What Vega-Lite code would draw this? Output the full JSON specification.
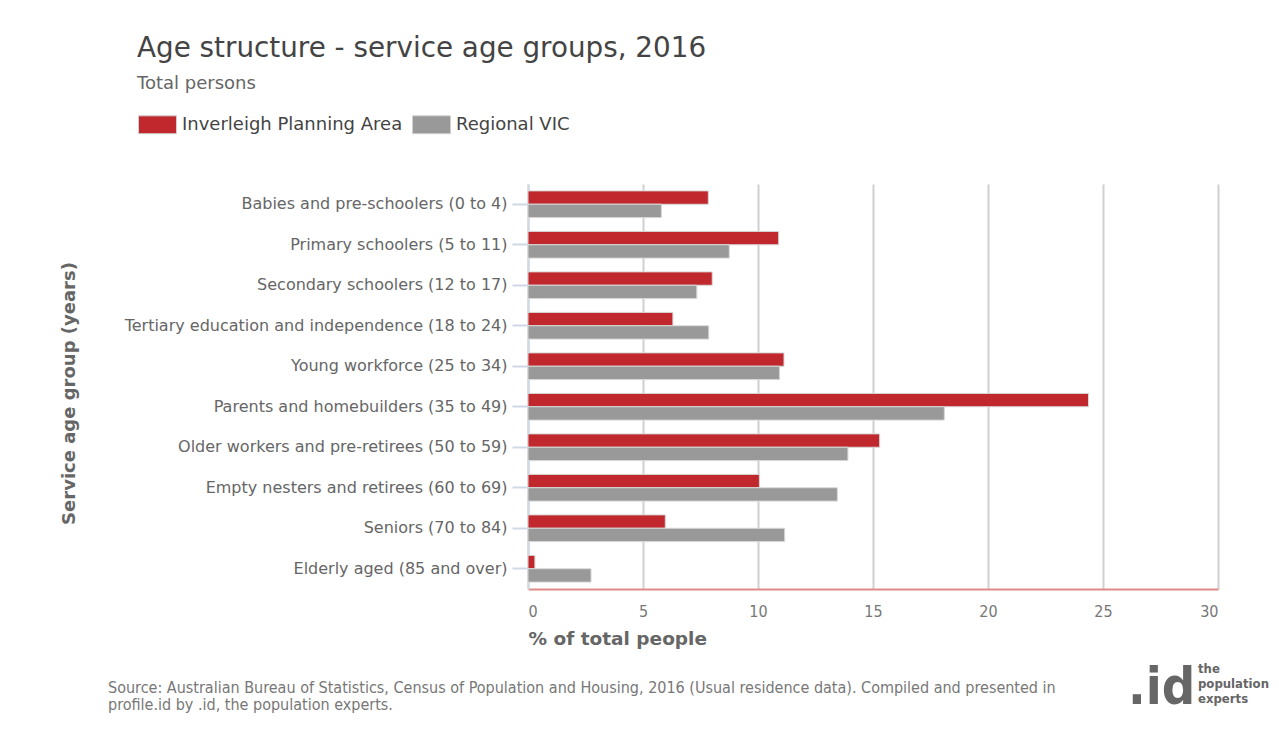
{
  "$schema": "https://vega.github.io/schema/vega-lite/v6.json",
  "background": "white",
  "padding": {"left": 60, "top": 35, "right": 0, "bottom": 0},
  "config": {"font": "DejaVu Sans", "view": {"stroke": null}},
  "spacing": -52,
  "title": {
    "text": "Age structure - service age groups, 2016",
    "subtitle": "Total persons",
    "anchor": "start",
    "frame": "bounds",
    "dx": 77,
    "fontSize": 27.8,
    "fontWeight": "normal",
    "color": "#444444",
    "subtitleFontSize": 18,
    "subtitleColor": "#666666",
    "subtitlePadding": 12,
    "offset": 12
  },
  "vconcat": [
    {
      "width": 690,
      "height": 405,
      "title": {
        "text": ["Source: Australian Bureau of Statistics, Census of Population and Housing, 2016 (Usual residence data). Compiled and presented in", "profile.id by .id, the population experts."],
        "orient": "bottom",
        "anchor": "start",
        "frame": "bounds",
        "dx": 48,
        "offset": 32,
        "font": "DejaVu Sans Condensed",
        "fontSize": 16,
        "fontWeight": "normal",
        "color": "#777777",
        "lineHeight": 17
      },
      "data": {
        "values": [
          {"group": "Babies and pre-schoolers (0 to 4)", "area": "Inverleigh Planning Area", "pct": 7.84},
          {"group": "Babies and pre-schoolers (0 to 4)", "area": "Regional VIC", "pct": 5.8},
          {"group": "Primary schoolers (5 to 11)", "area": "Inverleigh Planning Area", "pct": 10.9},
          {"group": "Primary schoolers (5 to 11)", "area": "Regional VIC", "pct": 8.75},
          {"group": "Secondary schoolers (12 to 17)", "area": "Inverleigh Planning Area", "pct": 8.01},
          {"group": "Secondary schoolers (12 to 17)", "area": "Regional VIC", "pct": 7.34},
          {"group": "Tertiary education and independence (18 to 24)", "area": "Inverleigh Planning Area", "pct": 6.3},
          {"group": "Tertiary education and independence (18 to 24)", "area": "Regional VIC", "pct": 7.86},
          {"group": "Young workforce (25 to 34)", "area": "Inverleigh Planning Area", "pct": 11.13},
          {"group": "Young workforce (25 to 34)", "area": "Regional VIC", "pct": 10.94},
          {"group": "Parents and homebuilders (35 to 49)", "area": "Inverleigh Planning Area", "pct": 24.37},
          {"group": "Parents and homebuilders (35 to 49)", "area": "Regional VIC", "pct": 18.1},
          {"group": "Older workers and pre-retirees (50 to 59)", "area": "Inverleigh Planning Area", "pct": 15.29},
          {"group": "Older workers and pre-retirees (50 to 59)", "area": "Regional VIC", "pct": 13.91},
          {"group": "Empty nesters and retirees (60 to 69)", "area": "Inverleigh Planning Area", "pct": 10.06},
          {"group": "Empty nesters and retirees (60 to 69)", "area": "Regional VIC", "pct": 13.45},
          {"group": "Seniors (70 to 84)", "area": "Inverleigh Planning Area", "pct": 5.97},
          {"group": "Seniors (70 to 84)", "area": "Regional VIC", "pct": 11.16},
          {"group": "Elderly aged (85 and over)", "area": "Inverleigh Planning Area", "pct": 0.3},
          {"group": "Elderly aged (85 and over)", "area": "Regional VIC", "pct": 2.74}
        ]
      },
      "mark": {"type": "bar", "stroke": "#d8d8d8", "strokeWidth": 1},
      "encoding": {
        "y": {
          "field": "group",
          "type": "nominal",
          "sort": null,
          "scale": {"paddingInner": 0.34, "paddingOuter": 0.17},
          "axis": {
            "title": "Service age group (years)",
            "titleFontSize": 18,
            "titleFontWeight": "bold",
            "titleColor": "#666666",
            "titleX": -450,
            "titleY": 209,
            "labelFontSize": 16,
            "labelColor": "#666666",
            "labelPadding": 5,
            "labelLimit": 600,
            "tickColor": "#cfd8e6",
            "tickSize": 16,
            "tickWidth": 2,
            "domainColor": "#cfd8e6",
            "domainWidth": 2,
            "grid": false
          }
        },
        "yOffset": {
          "field": "area",
          "type": "nominal",
          "sort": ["Inverleigh Planning Area", "Regional VIC"]
        },
        "x": {
          "field": "pct",
          "type": "quantitative",
          "scale": {"domain": [0, 30], "nice": false},
          "axis": {
            "title": "% of total people",
            "titleFontSize": 18.5,
            "titleFontWeight": "bold",
            "titleColor": "#666666",
            "titleAnchor": "start",
            "titlePadding": 10,
            "values": [0, 5, 10, 15, 20, 25, 30],
            "labelFont": "DejaVu Sans Condensed",
            "labelFontSize": 16,
            "labelColor": "#777777",
            "labelPadding": 14,
            "ticks": false,
            "grid": true,
            "gridColor": "#d0d0d0",
            "gridWidth": 2,
            "domainColor": "#e08a86",
            "domainWidth": 2
          }
        },
        "color": {
          "field": "area",
          "type": "nominal",
          "scale": {"domain": ["Inverleigh Planning Area", "Regional VIC"], "range": ["#c0282d", "#999999"]},
          "legend": {
            "title": null,
            "orient": "none",
            "direction": "horizontal",
            "legendX": -390,
            "legendY": -79,
            "symbolType": "M-1,-0.47H1V0.47H-1Z",
            "symbolSize": 1444,
            "symbolStrokeColor": "#d0d0d0",
            "symbolStrokeWidth": 1,
            "labelFontSize": 18,
            "labelColor": "#444444",
            "labelOffset": 5,
            "labelLimit": 600,
            "columnPadding": 7
          }
        }
      }
    },
    {
      "spacing": 0,
      "hconcat": [
        {
          "width": 1,
          "height": 1,
          "data": {"values": [{}]},
          "mark": {"type": "text"},
          "encoding": {},
          "title": {
            "text": ".id",
            "anchor": "start",
            "frame": "group",
            "offset": 0,
            "dx": 600,
            "font": "DejaVu Sans Condensed",
            "fontSize": 52,
            "fontWeight": "bold",
            "color": "#666666"
          }
        },
        {
          "width": 1,
          "height": 1,
          "data": {"values": [{}]},
          "mark": {"type": "text"},
          "encoding": {},
          "title": {
            "text": ["the", "population", "experts"],
            "anchor": "start",
            "frame": "group",
            "offset": 0,
            "dx": 2,
            "dy": -9,
            "font": "DejaVu Sans Condensed",
            "fontSize": 13,
            "fontWeight": "bold",
            "color": "#666666",
            "lineHeight": 15
          }
        }
      ]
    }
  ]
}
